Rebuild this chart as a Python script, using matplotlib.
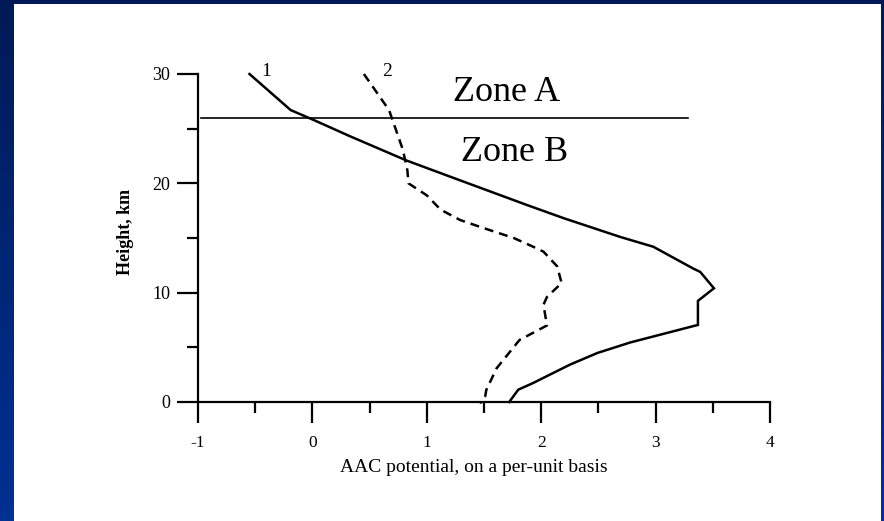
import numpy as np
import matplotlib.pyplot as plt
from matplotlib.patches import Rectangle
from matplotlib.ticker import MultipleLocator

# curve 1 (solid): AAC potential vs height
pot1 = [-0.55, -0.19, 0.01, 0.33, 0.82, 1.31, 1.88, 2.20, 2.69, 2.98, 3.33, 3.39,
        3.51, 3.37, 3.37, 2.78, 2.49, 2.25, 1.93, 1.80, 1.72]
h1 = [30.0, 26.7, 25.8, 24.3, 22.1, 20.2, 18.0, 16.8, 15.1, 14.2, 12.2, 11.9,
      10.4, 9.25, 7.05, 5.45, 4.48, 3.41, 1.74, 1.13, 0.0]

# curve 2 (dashed)
pot2 = [0.45, 0.67, 0.72, 0.79, 0.83, 0.84, 1.00, 1.12, 1.29, 1.47, 1.76, 1.93,
        2.02, 2.14, 2.17, 2.18, 2.05, 2.02, 2.05, 1.81, 1.61, 1.52, 1.51, 1.47, 1.48]
h2 = [30.0, 26.7, 25.2, 23.1, 21.2, 20.0, 18.9, 17.6, 16.65, 16.0, 15.0, 14.2,
      13.75, 12.4, 11.2, 10.9, 9.6, 8.9, 7.0, 5.67, 3.08, 1.1, 0.5, -0.05, 0.0]

zone_height = 26.0
zone_line_x = [-0.97, 3.28]

plt.rcParams['font.family'] = ['Liberation Serif', 'DejaVu Serif']
plt.rcParams['axes.unicode_minus'] = False

fig = plt.figure(figsize=(8.84, 5.21), dpi=100)

# slide background: blue gradient with a white panel
bg = fig.add_axes([0, 0, 1, 1], zorder=-10)
grad = np.linspace(0, 1, 256).reshape(-1, 1)
top = np.array([0.0, 0.10, 0.34])
bot = np.array([0.0, 0.19, 0.58])
img = top + grad[..., None] * (bot - top)
bg.imshow(img, aspect='auto', extent=[0, 1, 0, 1], origin='upper')
bg.add_patch(Rectangle((14 / 884, 0), (881 - 14) / 884, (521 - 4) / 521,
                       facecolor='white', edgecolor='none'))
bg.set_xlim(0, 1)
bg.set_ylim(0, 1)
bg.axis('off')

ax = fig.add_axes([198 / 884, (521 - 402) / 521, 572 / 884, 328 / 521])
ax.patch.set_alpha(0)

ax.plot(pot1, h1, color='black', lw=1.8, clip_on=False, solid_joinstyle='miter')
ax.plot(pot2, h2, color='black', lw=1.8, dashes=(3.6, 2.4), clip_on=False)
ax.plot(zone_line_x, [zone_height, zone_height], color='black', lw=1.2, clip_on=False)

ax.text(-0.40, 30.2, '1', fontsize=14, ha='center', va='center')
ax.text(0.65, 30.2, '2', fontsize=14, ha='center', va='center')
ax.text(1.70, 28.3, 'Zone A', fontsize=26, ha='center', va='center')
ax.text(1.77, 22.8, 'Zone B', fontsize=26, ha='center', va='center')

ax.set_xlim(-1, 4)
ax.set_ylim(0, 30)
ax.xaxis.set_major_locator(MultipleLocator(1))
ax.xaxis.set_minor_locator(MultipleLocator(0.5))
ax.yaxis.set_major_locator(MultipleLocator(10))
ax.yaxis.set_minor_locator(MultipleLocator(5))

for s in ['top', 'right']:
    ax.spines[s].set_visible(False)
for s in ['left', 'bottom']:
    ax.spines[s].set_linewidth(1.6)

ax.tick_params(axis='both', which='major', length=15, width=1.6, direction='out')
ax.tick_params(axis='both', which='minor', length=8, width=1.6, direction='out')
ax.tick_params(axis='x', which='major', pad=9, labelsize=12.5)
ax.tick_params(axis='y', which='major', pad=5, labelsize=13)

ax.set_xlabel('AAC potential, on a per-unit basis', fontsize=14)
ax.xaxis.set_label_coords(0.482, -0.175)
ax.set_ylabel('Height, km', fontsize=13, fontweight='bold')
ax.yaxis.set_label_coords(-0.112, 0.52)

fig.savefig('out.png', dpi=100)
